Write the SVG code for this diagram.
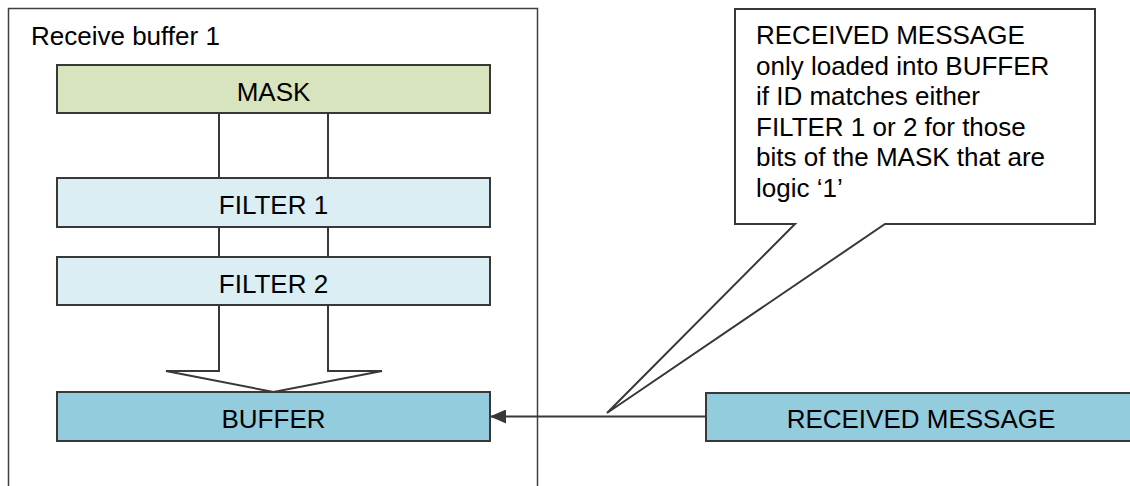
<svg xmlns="http://www.w3.org/2000/svg" width="1130" height="486" viewBox="0 0 1130 486">
<defs>
<style>
text{font-family:"Liberation Sans",Arial,sans-serif;font-size:26px;fill:#000}
.c{text-anchor:middle}
.box{stroke:#383838;stroke-width:2}
.ln{stroke:#383838;stroke-width:2;fill:none}
</style>
<marker id="ah" markerWidth="16" markerHeight="14" refX="15" refY="7" orient="auto" markerUnits="userSpaceOnUse">
<path d="M0,0 L16,7 L0,14 Z" fill="#383838"/>
</marker>
</defs>
<rect width="1130" height="486" fill="#fff"/>
<g id="receive-buffer">
<rect x="8.5" y="8.5" width="529" height="490" fill="none" stroke="#404040" stroke-width="1.5"/>
<text x="31" y="45">Receive buffer 1</text>
</g>
<g id="connectors">
<line class="ln" x1="219" y1="113" x2="219" y2="178"/>
<line class="ln" x1="328" y1="113" x2="328" y2="178"/>
<line class="ln" x1="219" y1="227" x2="219" y2="257"/>
<line class="ln" x1="328" y1="227" x2="328" y2="257"/>
<path class="ln" d="M219,305 V371 H166 L273.5,392 L382,371 H328 V305" stroke-linejoin="miter"/>
<line class="ln" x1="706" y1="416.5" x2="491" y2="416.5" marker-end="url(#ah)"/>
</g>
<g id="mask">
<rect class="box" x="57" y="65" width="433" height="48" fill="#d7e4bd"/>
<text class="c" x="273.5" y="101">MASK</text>
</g>
<g id="filter1">
<rect class="box" x="57" y="178" width="433" height="49" fill="#dbeef4"/>
<text class="c" x="273.5" y="214">FILTER 1</text>
</g>
<g id="filter2">
<rect class="box" x="57" y="257" width="433" height="48" fill="#dbeef4"/>
<text class="c" x="273.5" y="293">FILTER 2</text>
</g>
<g id="buffer">
<rect class="box" x="57" y="392" width="433" height="49" fill="#93cddd"/>
<text class="c" x="273.5" y="428">BUFFER</text>
</g>
<g id="received-message">
<rect class="box" x="706" y="393" width="430" height="48" fill="#93cddd"/>
<text class="c" x="921" y="428">RECEIVED MESSAGE</text>
</g>
<g id="callout">
<path d="M735,9 H1095 V224 H885 L607,413 L795,224 H735 Z" fill="#fff" stroke="#383838" stroke-width="2" stroke-linejoin="miter"/>
<text x="756" y="44">RECEIVED MESSAGE</text>
<text x="756" y="74.5">only loaded into BUFFER</text>
<text x="756" y="105">if ID matches either</text>
<text x="756" y="135.5">FILTER 1 or 2 for those</text>
<text x="756" y="166">bits of the MASK that are</text>
<text x="756" y="196.5">logic ‘1’</text>
</g>
</svg>
